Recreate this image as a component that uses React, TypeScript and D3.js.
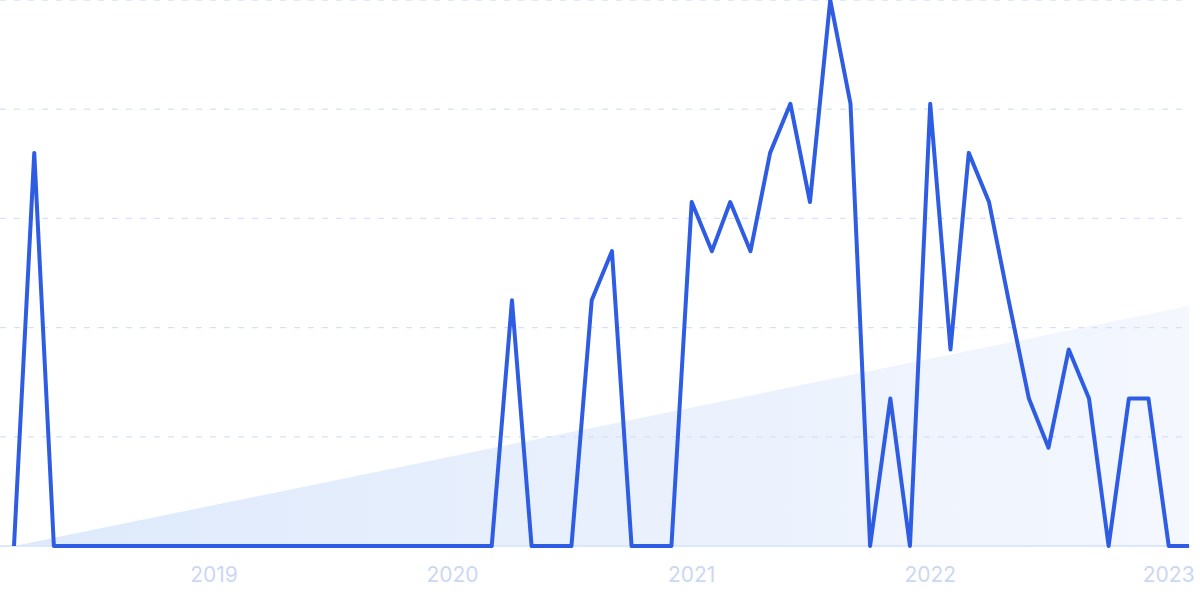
import * as React from 'react';
import * as d3 from 'd3';

// monthly interest (0-100), Mar 2018 .. Feb 2023
const startMonth = new Date(2018, 2, 1);
const values: number[] = [
  0, 72, 0, 0, 0, 0, 0, 0, 0, 0,
  0, 0, 0, 0, 0, 0, 0, 0, 0, 0,
  0, 0, 0, 0, 0, 45, 0, 0, 0, 45,
  54, 0, 0, 0, 63, 54, 63, 54, 72, 81,
  63, 100, 81, 0, 27, 0, 81, 36, 72, 63,
  45, 27, 18, 36, 27, 0, 27, 27, 0, 0,
];
const months: Date[] = values.map((_, i) => d3.timeMonth.offset(startMonth, i));
const yearTicks: Date[] = [2019, 2020, 2021, 2022, 2023].map((y) => new Date(y, 0, 1));
const trendValues: number[] = [0, 44];
const gridValues: number[] = [20, 40, 60, 80, 100];

const width = 1200;
const height = 599;
const margin = { top: 0, right: 11, bottom: 53, left: 14 };

const App: React.FC = () => {
  const x = d3
    .scaleTime()
    .domain([months[0], months[months.length - 1]])
    .range([margin.left, width - margin.right]);
  const y = d3
    .scaleLinear()
    .domain([0, 100])
    .range([height - margin.bottom, margin.top]);

  const line = d3
    .line<number>()
    .x((_, i) => x(months[i]))
    .y((d) => y(d));

  const trendArea = d3
    .area<number>()
    .x((_, i) => x(i === 0 ? months[0] : months[months.length - 1]))
    .y0(y(0))
    .y1((d) => y(d));

  const baseY = y(0);

  return (
    <svg
      width={width}
      height={height}
      style={{ position: 'absolute', top: 0, left: 0, background: '#fff' }}
    >
      <defs>
        <linearGradient id="trendFill" x1="0" y1="0" x2="1" y2="0">
          <stop offset="0%" stopColor="#dde9fb" />
          <stop offset="100%" stopColor="#f4f7fe" />
        </linearGradient>
      </defs>

      {/* trend wedge */}
      <path d={trendArea(trendValues) ?? ''} fill="url(#trendFill)" />

      {/* dashed grid */}
      {gridValues.map((v) => (
        <line
          key={v}
          x1={0}
          x2={1186}
          y1={y(v)}
          y2={y(v)}
          stroke="#d5e1fa"
          strokeWidth={1.3}
          strokeDasharray="6 8"
        />
      ))}

      {/* baseline */}
      <line x1={0} x2={1190} y1={baseY} y2={baseY} stroke="#dbe7fb" strokeWidth={2} />

      {/* series */}
      <path
        d={line(values) ?? ''}
        fill="none"
        stroke="#2e5de4"
        strokeWidth={4}
        strokeLinejoin="round"
        strokeLinecap="butt"
      />

      {/* year labels */}
      {yearTicks.map((d) => (
        <text
          key={d.getFullYear()}
          x={x(d)}
          y={582}
          textAnchor="middle"
          fontFamily="Inter, 'Liberation Sans', sans-serif"
          fontSize={21}
          fill="#ccd7f4"
        >
          {d.getFullYear()}
        </text>
      ))}
    </svg>
  );
};

export default App;
